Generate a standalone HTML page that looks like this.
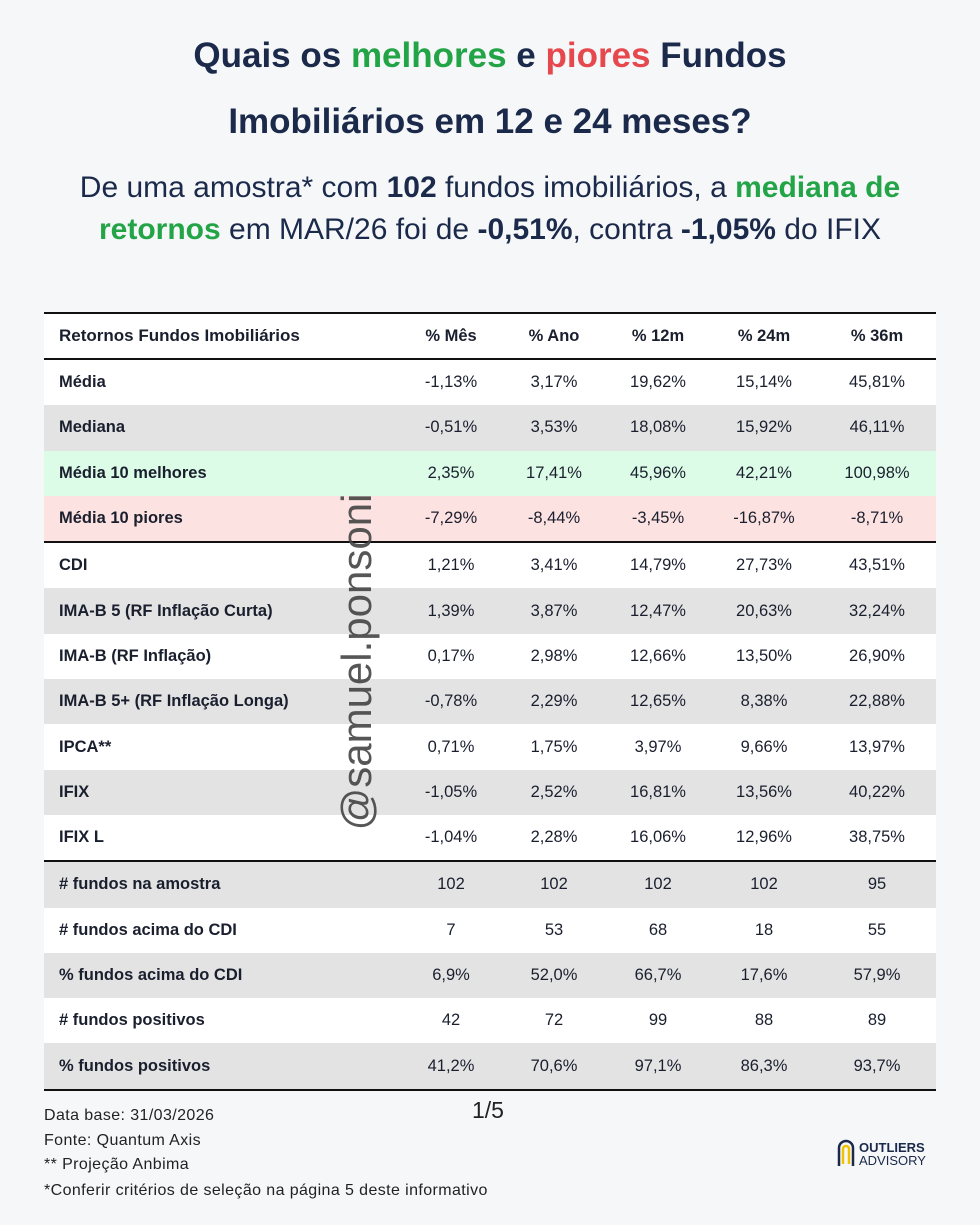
<!DOCTYPE html>
<html><head><meta charset="utf-8"><style>
body{margin:0;width:980px;height:1225px;background:#f6f7f9;font-family:"Liberation Sans",sans-serif;position:relative;overflow:hidden;color:#1a1f2e}
.t{position:absolute;left:0;width:980px;text-align:center;font-weight:bold;font-size:35px;color:#1b2a4a}
.s{position:absolute;left:0;width:980px;text-align:center;font-size:30px;color:#1b2a4a}
.g{color:#22a447}.r{color:#e5484d}
table{position:absolute;left:44px;top:312px;width:892px;border-collapse:collapse;font-size:16.5px;table-layout:fixed}
td{height:45.3px;padding:0;text-align:center}
td:first-child{text-align:left;padding-left:15px;font-weight:bold;color:#1a1f2e}
tr.h td{font-weight:bold;height:44px}
.gr td{background:#e3e3e3}.gn td{background:#dcfce7}.rd td{background:#fde2e2}
.bt td{border-top:2px solid #111}
.foot{position:absolute;left:44px;font-size:16px;letter-spacing:.4px;color:#222}
</style></head><body>
<div class="t" style="top:36px">Quais os <span class="g">melhores</span> e <span class="r">piores</span> Fundos</div>
<div class="t" style="top:102px">Imobiliários em 12 e 24 meses?</div>
<div class="s" style="top:171px">De uma amostra* com <b>102</b> fundos imobiliários, a <b class="g">mediana de</b></div>
<div class="s" style="top:213px"><b class="g">retornos</b> em MAR/26 foi de <b>-0,51%</b>, contra <b>-1,05%</b> do IFIX</div>
<table>
<colgroup><col style="width:356px"><col style="width:102px"><col style="width:104px"><col style="width:104px"><col style="width:108px"><col style="width:118px"></colgroup>
<tr class="h" style="background:#fff;border-top:2px solid #111"><td style="font-size:17px">Retornos Fundos Imobiliários</td><td>% Mês</td><td>% Ano</td><td>% 12m</td><td>% 24m</td><td>% 36m</td></tr>
<tr class="bt" style="background:#fff"><td>Média</td><td>-1,13%</td><td>3,17%</td><td>19,62%</td><td>15,14%</td><td>45,81%</td></tr>
<tr class="gr"><td>Mediana</td><td>-0,51%</td><td>3,53%</td><td>18,08%</td><td>15,92%</td><td>46,11%</td></tr>
<tr class="gn"><td>Média 10 melhores</td><td>2,35%</td><td>17,41%</td><td>45,96%</td><td>42,21%</td><td>100,98%</td></tr>
<tr class="rd"><td>Média 10 piores</td><td>-7,29%</td><td>-8,44%</td><td>-3,45%</td><td>-16,87%</td><td>-8,71%</td></tr>
<tr class="bt" style="background:#fff"><td>CDI</td><td>1,21%</td><td>3,41%</td><td>14,79%</td><td>27,73%</td><td>43,51%</td></tr>
<tr class="gr"><td>IMA-B 5 (RF Inflação Curta)</td><td>1,39%</td><td>3,87%</td><td>12,47%</td><td>20,63%</td><td>32,24%</td></tr>
<tr style="background:#fff"><td>IMA-B (RF Inflação)</td><td>0,17%</td><td>2,98%</td><td>12,66%</td><td>13,50%</td><td>26,90%</td></tr>
<tr class="gr"><td>IMA-B 5+ (RF Inflação Longa)</td><td>-0,78%</td><td>2,29%</td><td>12,65%</td><td>8,38%</td><td>22,88%</td></tr>
<tr style="background:#fff"><td>IPCA**</td><td>0,71%</td><td>1,75%</td><td>3,97%</td><td>9,66%</td><td>13,97%</td></tr>
<tr class="gr"><td>IFIX</td><td>-1,05%</td><td>2,52%</td><td>16,81%</td><td>13,56%</td><td>40,22%</td></tr>
<tr style="background:#fff"><td>IFIX L</td><td>-1,04%</td><td>2,28%</td><td>16,06%</td><td>12,96%</td><td>38,75%</td></tr>
<tr class="gr bt"><td># fundos na amostra</td><td>102</td><td>102</td><td>102</td><td>102</td><td>95</td></tr>
<tr style="background:#fff"><td># fundos acima do CDI</td><td>7</td><td>53</td><td>68</td><td>18</td><td>55</td></tr>
<tr class="gr"><td>% fundos acima do CDI</td><td>6,9%</td><td>52,0%</td><td>66,7%</td><td>17,6%</td><td>57,9%</td></tr>
<tr style="background:#fff"><td># fundos positivos</td><td>42</td><td>72</td><td>99</td><td>88</td><td>89</td></tr>
<tr class="gr" style="border-bottom:2px solid #111"><td>% fundos positivos</td><td>41,2%</td><td>70,6%</td><td>97,1%</td><td>86,3%</td><td>93,7%</td></tr>
</table>
<div style="position:absolute;left:357px;top:662px;transform:translate(-50%,-50%) rotate(-90deg);font-size:42px;color:#444;white-space:nowrap;opacity:.9">@samuel.ponsoni</div>
<div class="foot" style="top:1107px">Data base: 31/03/2026</div>
<div class="foot" style="top:1132px">Fonte: Quantum Axis</div>
<div class="foot" style="top:1156px">** Projeção Anbima</div>
<div class="foot" style="top:1182px">*Conferir critérios de seleção na página 5 deste informativo</div>
<div style="position:absolute;left:472px;top:1097px;font-size:23px;color:#222">1/5</div>
<div style="position:absolute;left:836px;top:1138px;display:flex;align-items:center">
<svg width="20" height="32" viewBox="0 0 20 32"><path d="M3 28V10a7 7 0 0 1 14 0v18" fill="none" stroke="#1b2a4a" stroke-width="2.5"/><path d="M7 26V11a3 3 0 0 1 6 0v15" fill="none" stroke="#f2c200" stroke-width="2.5"/></svg>
<div style="margin-left:3px;line-height:13px;color:#1b2a4a"><div style="font-weight:bold;font-size:13px">OUTLIERS</div><div style="font-size:13px">ADVISORY</div></div></div>
</body></html>
